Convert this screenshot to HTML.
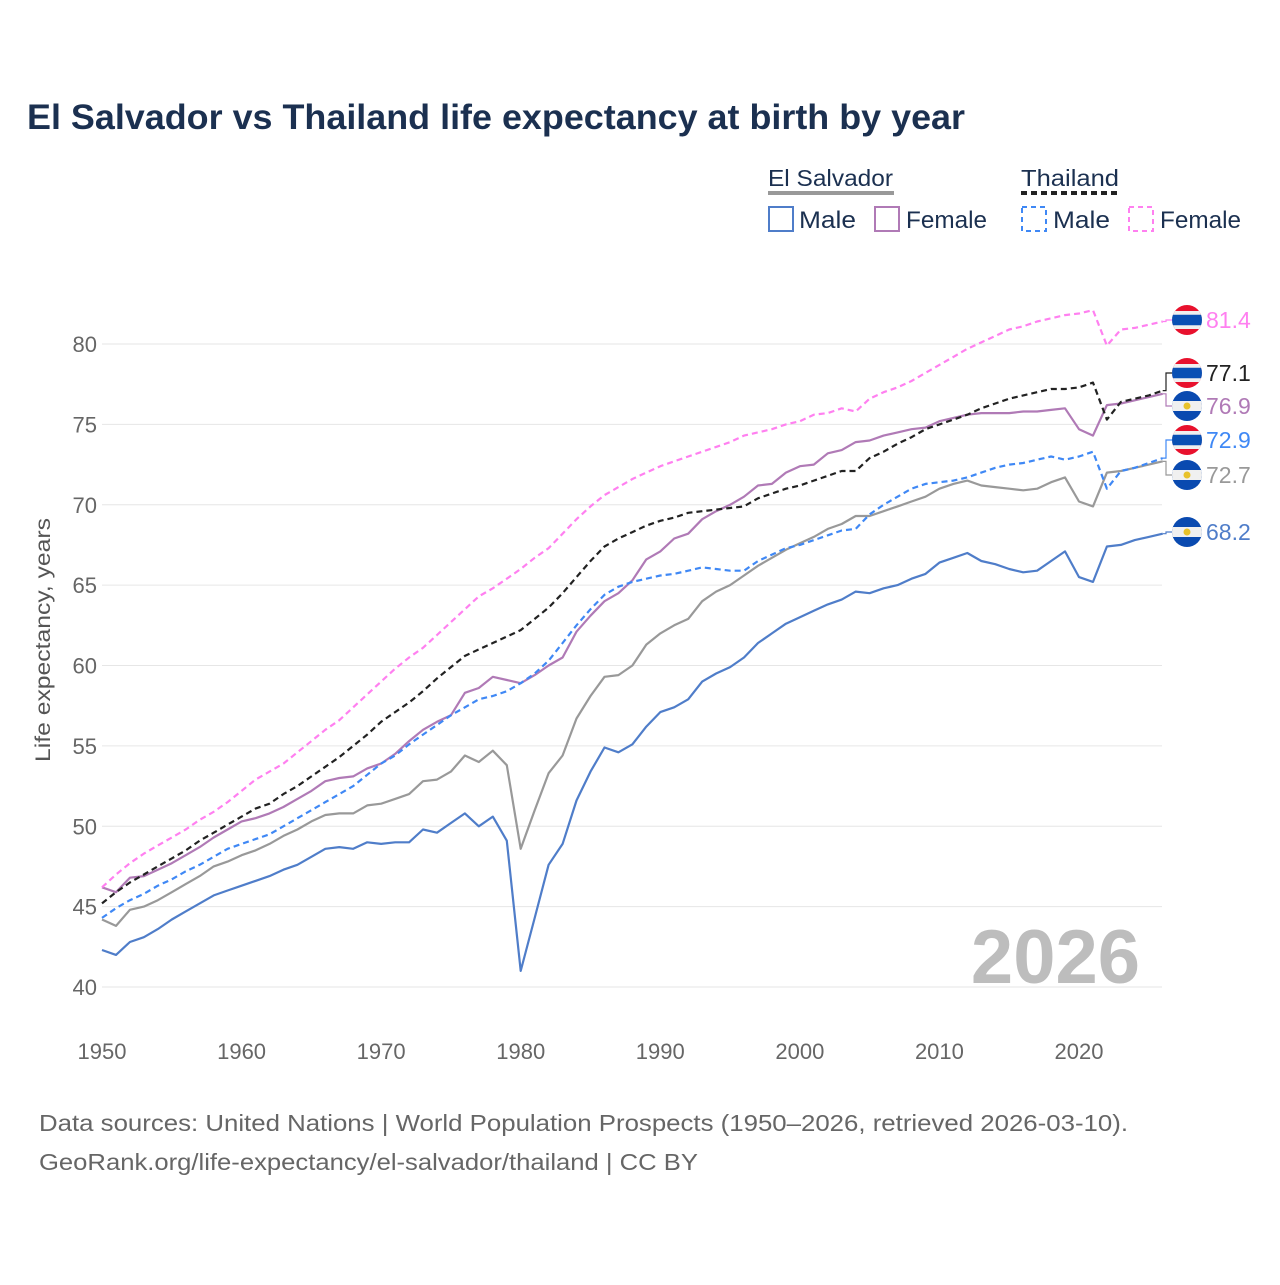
<!DOCTYPE html>
<html><head><meta charset="utf-8">
<style>
html,body{margin:0;padding:0;background:#fff;}
body{width:1280px;height:1280px;position:relative;overflow:hidden;font-family:"Liberation Sans",sans-serif;}
svg text{font-family:"Liberation Sans",sans-serif;}
</style></head>
<body>
<svg id="chart" width="1280" height="1280" xmlns="http://www.w3.org/2000/svg">
<text x="27" y="129" font-size="35" font-weight="bold" fill="#1b3050" textLength="938" lengthAdjust="spacingAndGlyphs">El Salvador vs Thailand life expectancy at birth by year</text>
<g>
<text x="768" y="186" font-size="23" fill="#1b3050" textLength="125" lengthAdjust="spacingAndGlyphs">El Salvador</text>
<line x1="768" y1="193" x2="894" y2="193" stroke="#999" stroke-width="4"/>
<text x="1021" y="186" font-size="23" fill="#1b3050" textLength="98" lengthAdjust="spacingAndGlyphs">Thailand</text>
<line x1="1021" y1="193" x2="1119" y2="193" stroke="#222" stroke-width="4" stroke-dasharray="6,4"/>
<g><rect x="769" y="207" width="24" height="24" fill="none" stroke="#4f7dc9" stroke-width="2"/><text x="799" y="228" font-size="24" fill="#1b3050" textLength="57" lengthAdjust="spacingAndGlyphs">Male</text></g>
<g><rect x="875" y="207" width="24" height="24" fill="none" stroke="#b07ab6" stroke-width="2"/><text x="906" y="228" font-size="24" fill="#1b3050" textLength="81" lengthAdjust="spacingAndGlyphs">Female</text></g>
<g><rect x="1022" y="207" width="24" height="24" fill="none" stroke="#3f88f5" stroke-width="2" stroke-dasharray="5,4"/><text x="1053" y="228" font-size="24" fill="#1b3050" textLength="57" lengthAdjust="spacingAndGlyphs">Male</text></g>
<g><rect x="1129" y="207" width="24" height="24" fill="none" stroke="#ff80f0" stroke-width="2" stroke-dasharray="5,4"/><text x="1160" y="228" font-size="24" fill="#1b3050" textLength="81" lengthAdjust="spacingAndGlyphs">Female</text></g>
</g>
<g id="grid"></g>
<g id="series"></g>
<g id="ends"></g>
<text x="1140" y="983" font-size="76" font-weight="bold" fill="#bdbdbd" text-anchor="end">2026</text>
<text transform="translate(50,640) rotate(-90)" font-size="21" fill="#555" text-anchor="middle" textLength="244" lengthAdjust="spacingAndGlyphs">Life expectancy, years</text>
<text x="39" y="1131" font-size="23" fill="#666" textLength="1089" lengthAdjust="spacingAndGlyphs">Data sources: United Nations | World Population Prospects (1950–2026, retrieved 2026-03-10).</text>
<text x="39" y="1170" font-size="23" fill="#666" textLength="659" lengthAdjust="spacingAndGlyphs">GeoRank.org/life-expectancy/el-salvador/thailand | CC BY</text>
</svg>
<script>
const years = [];for(let y=1950;y<=2026;y++)years.push(y);
const yTicks = [40,45,50,55,60,65,70,75,80];
const xTicks = [1950,1960,1970,1980,1990,2000,2010,2020];
const esMale = [42.3,42.0,42.8,43.1,43.6,44.2,44.7,45.2,45.7,46.0,46.3,46.6,46.9,47.3,47.6,48.1,48.6,48.7,48.6,49.0,48.9,49.0,49.0,49.8,49.6,50.2,50.8,50.0,50.6,49.1,41.0,44.3,47.6,48.9,51.6,53.4,54.9,54.6,55.1,56.2,57.1,57.4,57.9,59.0,59.5,59.9,60.5,61.4,62.0,62.6,63.0,63.4,63.8,64.1,64.6,64.5,64.8,65.0,65.4,65.7,66.4,66.7,67.0,66.5,66.3,66.0,65.8,65.9,66.5,67.1,65.5,65.2,67.4,67.5,67.8,68.0,68.2];
const esFemale = [46.2,45.9,46.8,46.9,47.3,47.7,48.2,48.7,49.3,49.8,50.3,50.5,50.8,51.2,51.7,52.2,52.8,53.0,53.1,53.6,53.9,54.5,55.3,56.0,56.5,56.9,58.3,58.6,59.3,59.1,58.9,59.4,60.0,60.5,62.1,63.1,64.0,64.5,65.3,66.6,67.1,67.9,68.2,69.1,69.6,70.0,70.5,71.2,71.3,72.0,72.4,72.5,73.2,73.4,73.9,74.0,74.3,74.5,74.7,74.8,75.2,75.4,75.6,75.7,75.7,75.7,75.8,75.8,75.9,76.0,74.7,74.3,76.2,76.3,76.5,76.7,76.9];
const esTotal = [44.2,43.8,44.8,45.0,45.4,45.9,46.4,46.9,47.5,47.8,48.2,48.5,48.9,49.4,49.8,50.3,50.7,50.8,50.8,51.3,51.4,51.7,52.0,52.8,52.9,53.4,54.4,54.0,54.7,53.8,48.6,51.0,53.3,54.4,56.7,58.1,59.3,59.4,60.0,61.3,62.0,62.5,62.9,64.0,64.6,65.0,65.6,66.2,66.7,67.2,67.6,68.0,68.5,68.8,69.3,69.3,69.6,69.9,70.2,70.5,71.0,71.3,71.5,71.2,71.1,71.0,70.9,71.0,71.4,71.7,70.2,69.9,72.0,72.1,72.3,72.5,72.7];
const thMale = [44.3,44.9,45.4,45.8,46.3,46.7,47.2,47.6,48.1,48.6,48.9,49.2,49.5,50.0,50.5,51.0,51.5,52.0,52.5,53.2,53.9,54.4,55.1,55.7,56.3,56.9,57.4,57.9,58.1,58.4,58.9,59.5,60.3,61.4,62.5,63.5,64.4,64.9,65.2,65.4,65.6,65.7,65.9,66.1,66.0,65.9,65.9,66.5,66.9,67.3,67.5,67.8,68.1,68.4,68.5,69.4,70.0,70.5,71.0,71.3,71.4,71.5,71.7,72.0,72.3,72.5,72.6,72.8,73.0,72.8,73.0,73.3,71.0,72.1,72.3,72.6,72.9];
const thFemale = [46.2,47.0,47.7,48.3,48.8,49.3,49.8,50.4,50.9,51.5,52.2,52.9,53.4,53.9,54.6,55.3,56.0,56.6,57.4,58.2,59.0,59.8,60.5,61.1,61.9,62.7,63.5,64.3,64.8,65.4,66.0,66.7,67.3,68.2,69.1,69.9,70.6,71.1,71.6,72.0,72.4,72.7,73.0,73.3,73.6,73.9,74.3,74.5,74.7,75.0,75.2,75.6,75.7,76.0,75.8,76.6,77.0,77.3,77.7,78.2,78.7,79.2,79.7,80.1,80.5,80.9,81.1,81.4,81.6,81.8,81.9,82.1,79.9,80.9,81.0,81.2,81.4];
const thTotal = [45.2,45.9,46.5,47.0,47.5,48.0,48.5,49.1,49.6,50.1,50.6,51.1,51.4,52.0,52.5,53.1,53.7,54.3,55.0,55.7,56.5,57.1,57.7,58.4,59.2,59.9,60.6,61.0,61.4,61.8,62.2,62.9,63.6,64.5,65.5,66.5,67.4,67.9,68.3,68.7,69.0,69.2,69.5,69.6,69.7,69.8,69.9,70.4,70.7,71.0,71.2,71.5,71.8,72.1,72.1,72.9,73.3,73.8,74.2,74.7,75.0,75.3,75.6,76.0,76.3,76.6,76.8,77.0,77.2,77.2,77.3,77.6,75.3,76.4,76.6,76.8,77.1];

const NS="http://www.w3.org/2000/svg";
const X0=102,X1=1162.7,Y0=987,Y1=344;
const xs=y=>X0+(y-1950)*(1079-102)/70;
const ys=v=>Y0-(v-40)*(Y0-Y1)/40;
function mk(tag,attrs,parent){const e=document.createElementNS(NS,tag);for(const k in attrs)e.setAttribute(k,attrs[k]);parent.appendChild(e);return e;}
const grid=document.getElementById('grid');
yTicks.forEach(t=>{
  const l=mk('line',{x1:X0,x2:1162,y1:ys(t),y2:ys(t),stroke:'#e6e6e6','stroke-width':1},grid);
  
  
  const tx=mk('text',{x:97,y:ys(t)+8,'font-size':22,fill:'#666','text-anchor':'end'},grid);
  tx.textContent=t;
  
  
});
xTicks.forEach(t=>{
  const tx=mk('text',{x:xs(t),y:1059,'font-size':22,fill:'#666','text-anchor':'middle'},grid);
  tx.textContent=t;
  
  
});
const sg=document.getElementById('series');
const defs=[
 ['series-es-total',esTotal,'#999',''],
 ['series-es-male',esMale,'#4f7dc9',''],
 ['series-es-female',esFemale,'#b07ab6',''],
 ['series-th-male',thMale,'#3f88f5','6,4'],
 ['series-th-female',thFemale,'#ff80f0','6,4'],
 ['series-th-total',thTotal,'#222','6,4'],
];
defs.forEach(([n,d,c,da])=>{
  const p=mk('polyline',{points:d.map((v,i)=>xs(years[i]).toFixed(1)+','+ys(v).toFixed(1)).join(' '),fill:'none',stroke:c,'stroke-width':2.2,'stroke-dasharray':da,'stroke-linejoin':'round'},sg);
  
  
});
const eg=document.getElementById('ends');
const ends=[
 ['th-female',thFemale,'#ff80f0',320,'th'],
 ['th-total',thTotal,'#222',373,'th'],
 ['es-female',esFemale,'#b07ab6',406,'es'],
 ['th-male',thMale,'#3f88f5',440,'th'],
 ['es-total',esTotal,'#999',475,'es'],
 ['es-male',esMale,'#4f7dc9',532,'es'],
];
const fx=1187,r=15;
ends.forEach(([n,d,c,ly,flag],k)=>{
  const v=d[d.length-1];const yy=ys(v);
  mk('polyline',{points:`${X1},${yy} 1166,${yy} 1166,${ly} ${fx-r},${ly}`,fill:'none',stroke:c,'stroke-width':1.2},eg);
  const g=mk('g',{},eg);
  
  
  const cid='clip'+k;
  const cp=mk('clipPath',{id:cid},g);mk('circle',{cx:fx,cy:ly,r:r},cp);
  const gg=mk('g',{'clip-path':`url(#${cid})`},g);
  if(flag==='th'){
    mk('rect',{x:fx-r,y:ly-r,width:2*r,height:2*r,fill:'#e8112d'},gg);
    mk('rect',{x:fx-r,y:ly-r*0.6,width:2*r,height:r*1.2,fill:'#f0f0f0'},gg);
    mk('rect',{x:fx-r,y:ly-r*0.35,width:2*r,height:r*0.7,fill:'#0a50b4'},gg);
  }else{
    mk('rect',{x:fx-r,y:ly-r,width:2*r,height:2*r,fill:'#0a4ab0'},gg);
    mk('rect',{x:fx-r,y:ly-r/3,width:2*r,height:2*r/3,fill:'#f0f0f0'},gg);
    mk('circle',{cx:fx,cy:ly,r:3.5,fill:'#e8c22a'},gg);
  }
  const t=mk('text',{x:1206,y:ly+8,'font-size':23,fill:c},eg);
  t.textContent=v.toFixed(1);
  
  
});
</script>
</body></html>
